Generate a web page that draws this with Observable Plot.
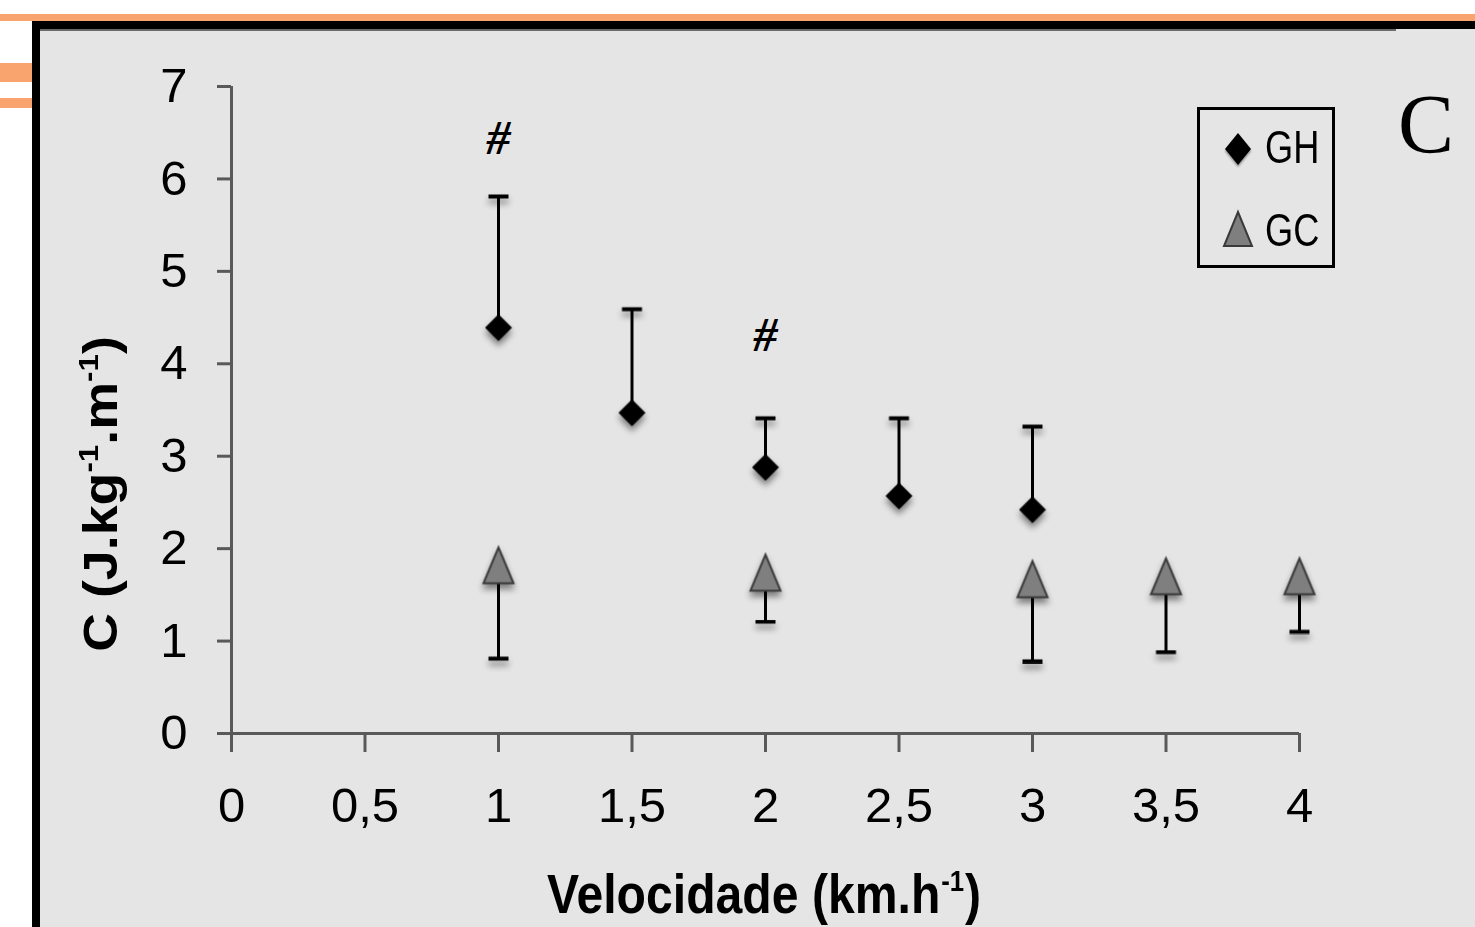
<!DOCTYPE html>
<html>
<head>
<meta charset="utf-8">
<script src="https://cdn.jsdelivr.net/npm/d3@7"></script>
<script src="https://cdn.jsdelivr.net/npm/@observablehq/plot@0.6"></script>
<style>
  html, body { margin: 0; padding: 0; background: #ffffff; }
  #page { position: relative; width: 1475px; height: 927px; overflow: hidden; background: #ffffff; }
  .deco { position: absolute; }
  #chart, #overlay { position: absolute; left: 0; top: 0; }
  #chart g[aria-label="dot"] { filter: drop-shadow(0px 5px 3px rgba(0,0,0,0.45)); }
</style>
</head>
<body>
<div id="page">
  <div class="deco" style="left:0;top:14px;width:1475px;height:7px;background:#f9a46f"></div>
  <div class="deco" style="left:0;top:63px;width:32px;height:19px;background:#f9a46f"></div>
  <div class="deco" style="left:0;top:98px;width:32px;height:10px;background:#f9a46f"></div>
  <div class="deco" style="left:32px;top:21px;width:1443px;height:8px;background:#000"></div>
  <div class="deco" style="left:32px;top:21px;width:8px;height:906px;background:#000"></div>
  <div class="deco" style="left:40px;top:29px;width:1435px;height:898px;background:#e5e5e5"></div>
  <div class="deco" style="left:40px;top:29px;width:1356px;height:2px;background:#6a6a6a"></div>
  <div id="chart"></div>
  <svg id="overlay" width="1475" height="927"></svg>
</div>
<script>
// ---- data ----
const speedGH = [1, 1.5, 2, 2.5, 3];
const meanGH  = [4.39, 3.47, 2.88, 2.57, 2.42];
const upperGH = [5.81, 4.59, 3.41, 3.41, 3.32];

const speedGC = [1, 2, 3, 3.5, 4];
const meanGC  = [1.82, 1.74, 1.67, 1.70, 1.70];
const lowerGC = [0.81, 1.21, 0.78, 0.88, 1.10];

const sigSpeed = [1, 2];
const sigY     = [6.44, 4.31];
const sigLabel = ["#", "#"];

const xTicks = [0, 0.5, 1, 1.5, 2, 2.5, 3, 3.5, 4];
const yTicks = [0, 1, 2, 3, 4, 5, 6, 7];
const seriesNames = ["GH", "GC"];

const gh = speedGH.map((v, i) => ({v, mean: meanGH[i], hi: upperGH[i]}));
const gc = speedGC.map((v, i) => ({v, mean: meanGC[i], lo: lowerGC[i]}));
const sig = sigSpeed.map((v, i) => ({v, y: sigY[i], t: sigLabel[i]}));

const triangle = {
  draw(ctx, size) {
    const r = Math.sqrt(size / Math.PI);
    const h = r * 1.2;
    ctx.moveTo(0, -h);
    ctx.lineTo(r, h);
    ctx.lineTo(-r, h);
    ctx.closePath();
  }
};
const capLine = {
  draw(ctx, size) {
    const r = Math.sqrt(size / Math.PI);
    ctx.moveTo(-r, 0);
    ctx.lineTo(r, 0);
  }
};

const fmt = d => String(d).replace(".", ",");

const chart = Plot.plot({
  width: 1475,
  height: 927,
  marginLeft: 231,
  marginRight: 176,
  marginTop: 86,
  marginBottom: 194,
  x: {domain: [0, 4]},
  y: {domain: [0, 7]},
  style: {background: "transparent", fontFamily: "'Liberation Sans', Arial, sans-serif", fontSize: "49px", color: "black", overflow: "visible"},
  marks: [
    Plot.ruleX([0], {y1: 0, y2: 7, stroke: "#595959", strokeWidth: 3}),
    Plot.ruleY([0], {x1: 0, x2: 4, stroke: "#595959", strokeWidth: 3}),
    Plot.axisY({ticks: yTicks, tickSize: 14, tickPadding: 30, stroke: "#595959", strokeWidth: 3, fill: "black", label: null, tickFormat: fmt}),
    Plot.axisX({ticks: xTicks, tickSize: 19, tickPadding: 35, stroke: "#595959", strokeWidth: 3, fill: "black", label: null, tickFormat: fmt}),
    // GH error bars (upper)
    Plot.ruleX(gh, {x: "v", y1: "mean", y2: "hi", stroke: "black", strokeWidth: 3}),
    Plot.dot(gh, {x: "v", y: "hi", symbol: capLine, r: 10, stroke: "black", strokeWidth: 4, fill: "none"}),
    // GC error bars (lower)
    Plot.ruleX(gc, {x: "v", y1: "lo", y2: "mean", stroke: "black", strokeWidth: 3}),
    Plot.dot(gc, {x: "v", y: "lo", symbol: capLine, r: 10, stroke: "black", strokeWidth: 4, fill: "none"}),
    // markers
    Plot.dot(gh, {x: "v", y: "mean", symbol: "diamond2", r: 11.7, fill: "black", stroke: "black", strokeWidth: 1}),
    Plot.dot(gc, {x: "v", y: "mean", symbol: triangle, r: 15, fill: "#7f7f7f", stroke: "#3a3a3a", strokeWidth: 2}),
    // significance marks
    Plot.text(sig, {x: "v", y: "y", text: "t", fontFamily: "'Liberation Serif', 'Times New Roman', serif", fontSize: 48, fontWeight: "bold", fontStyle: "italic", fill: "black"})
  ]
});
document.getElementById("chart").appendChild(chart);

// ---- overlay: axis titles, legend, panel letter ----
const ov = d3.select("#overlay");
const sans = "'Liberation Sans', Arial, sans-serif";

// x title (horizontally condensed to match the reference)
const xt = ov.append("text")
  .attr("transform", "translate(764,913) scale(0.86,1)")
  .attr("text-anchor", "middle")
  .attr("font-family", sans).attr("font-weight", "bold").attr("font-size", 56);
xt.append("tspan").text("Velocidade (km.h");
xt.append("tspan").attr("font-size", 30).attr("dy", -22).attr("dx", 1).text("-1");
xt.append("tspan").attr("dy", 22).attr("dx", 1).text(")");

// y title
const yt = ov.append("text")
  .attr("transform", "translate(117,494) rotate(-90) scale(1.12,1)")
  .attr("text-anchor", "middle")
  .attr("font-family", sans).attr("font-weight", "bold").attr("font-size", 48);
yt.append("tspan").text("C (J.kg");
yt.append("tspan").attr("font-size", 28).attr("dy", -19).text("-1");
yt.append("tspan").attr("dy", 19).text(".m");
yt.append("tspan").attr("font-size", 28).attr("dy", -19).text("-1");
yt.append("tspan").attr("dy", 19).text(")");

// legend
ov.append("rect").attr("x", 1198.5).attr("y", 108.5).attr("width", 135).attr("height", 158)
  .attr("fill", "none").attr("stroke", "black").attr("stroke-width", 3);
ov.append("path").attr("d", "M1238,133 L1251,149 L1238,165 L1225,149 Z").attr("fill", "black")
  .style("filter", "drop-shadow(0px 2px 1px rgba(0,0,0,0.4))");
ov.append("path").attr("d", "M1238,212 L1252,246 L1224,246 Z").attr("fill", "#7f7f7f").attr("stroke", "#3a3a3a").attr("stroke-width", 2);
ov.append("text").attr("transform", "translate(1265,163) scale(0.77,1)").attr("font-family", sans).attr("font-size", 47)
  .text(seriesNames[0]);
ov.append("text").attr("transform", "translate(1265,246) scale(0.77,1)").attr("font-family", sans).attr("font-size", 47)
  .text(seriesNames[1]);

// panel letter
ov.append("text").attr("x", 1398).attr("y", 153)
  .attr("font-family", "'Liberation Serif', 'Times New Roman', serif").attr("font-size", 84).text("C");
</script>
</body>
</html>
